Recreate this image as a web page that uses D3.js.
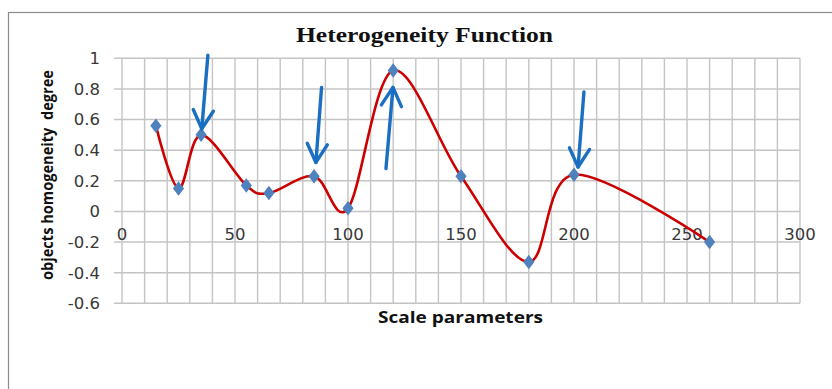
<!DOCTYPE html>
<html>
<head>
<meta charset="utf-8">
<script src="https://cdn.jsdelivr.net/npm/d3@7"></script>
<style>
  body { margin: 0; background: #fff; }
  svg { display: block; }
</style>
</head>
<body>
<div id="chart"></div>
<script>
// data
const scaleParams = [15, 25, 35, 55, 65, 85, 100, 120, 150, 180, 200, 260];
const homogeneity = [0.56, 0.15, 0.5, 0.17, 0.12, 0.23, 0.02, 0.92, 0.23, -0.33, 0.24, -0.2];

const xTicks = [0, 50, 100, 150, 200, 250, 300];
const yTicks = [-0.6, -0.4, -0.2, 0, 0.2, 0.4, 0.6, 0.8, 1];
const yTickLabels = ['-0.6', '-0.4', '-0.2', '0', '0.2', '0.4', '0.6', '0.8', '1'];

// hand drawn arrows, in data units: [fromX, fromY, toX, toY]
const arrows = [
  [38.0, 1.02, 35.3, 0.54],
  [88.3, 0.81, 85.8, 0.32],
  [116.8, 0.28, 119.9, 0.81],
  [204.4, 0.78, 201.8, 0.29]
];

const width = 832;
const height = 389;

const svg = d3.select('#chart')
  .append('svg')
  .attr('width', width)
  .attr('height', height);

// outer chart frame (runs off the right/bottom of the picture)
svg.append('rect')
  .attr('x', 8.5)
  .attr('y', 12.5)
  .attr('width', 900)
  .attr('height', 500)
  .attr('fill', 'none')
  .attr('stroke', '#8c8c8c')
  .attr('stroke-width', 1.2);

const x = d3.scaleLinear().domain([0, 300]).range([122, 800]);
const y = d3.scaleLinear().domain([-0.6, 1]).range([303.3, 58.3]);

const grid = svg.append('g').attr('stroke', '#c4c4c4').attr('stroke-width', 1.4);

// vertical grid every 10
grid.selectAll('line.v')
  .data(d3.range(0, 301, 10))
  .enter().append('line')
  .attr('class', 'v')
  .attr('x1', d => x(d)).attr('x2', d => x(d))
  .attr('y1', y(1)).attr('y2', y(-0.6));

// horizontal grid (with little tick stubs on the left)
grid.selectAll('line.h')
  .data(yTicks)
  .enter().append('line')
  .attr('class', 'h')
  .attr('x1', x(0) - 8).attr('x2', x(300))
  .attr('y1', d => y(d)).attr('y2', d => y(d));

// y tick labels
svg.append('g')
  .selectAll('text')
  .data(yTicks)
  .enter().append('text')
  .attr('x', 100)
  .attr('y', d => y(d))
  .attr('dy', '0.36em')
  .attr('text-anchor', 'end')
  .style('font-family', 'DejaVu Sans')
  .style('font-size', '16.5px')
  .attr('fill', '#383838')
  .text((d, i) => yTickLabels[i]);

// x tick labels sit just under the zero line
svg.append('g')
  .selectAll('text')
  .data(xTicks)
  .enter().append('text')
  .attr('x', d => x(d))
  .attr('y', y(0) + 28.5)
  .attr('text-anchor', 'middle')
  .style('font-family', 'DejaVu Sans')
  .style('font-size', '16.5px')
  .attr('fill', '#383838')
  .text(d => d);

// smoothed line
const pts = scaleParams.map((d, i) => [d, homogeneity[i]]);
const line = d3.line()
  .x(d => x(d[0]))
  .y(d => y(d[1]))
  .curve(d3.curveCardinal.tension(0));

svg.append('path')
  .datum(pts)
  .attr('d', line)
  .attr('fill', 'none')
  .attr('stroke', '#cc0000')
  .attr('stroke-width', 2.6);

// diamond markers
svg.selectAll('path.marker')
  .data(pts)
  .enter().append('path')
  .attr('class', 'marker')
  .attr('d', d3.symbol().type(d3.symbolDiamond).size(75))
  .attr('transform', d => `translate(${x(d[0])},${y(d[1])}) scale(1.2,0.9)`)
  .attr('fill', '#4f81bd');

// arrows
const arrowG = svg.append('g')
  .attr('stroke', '#1a6fc2')
  .attr('stroke-width', 3.4)
  .attr('stroke-linecap', 'round')
  .attr('stroke-linejoin', 'round')
  .attr('fill', 'none');

arrows.forEach(a => {
  const x1 = x(a[0]), y1 = y(a[1]), x2 = x(a[2]), y2 = y(a[3]);
  const ang = Math.atan2(y2 - y1, x2 - x1);
  const len = 21, spread = 0.5;
  arrowG.append('line')
    .attr('x1', x1).attr('y1', y1).attr('x2', x2).attr('y2', y2);
  arrowG.append('path')
    .attr('d', `M${x2 - len * Math.cos(ang - spread)},${y2 - len * Math.sin(ang - spread)}` +
      `L${x2},${y2}` +
      `L${x2 - len * Math.cos(ang + spread)},${y2 - len * Math.sin(ang + spread)}`);
});

// titles
svg.append('text')
  .attr('x', 424.5)
  .attr('y', 42)
  .attr('text-anchor', 'middle')
  .attr('textLength', 257)
  .attr('lengthAdjust', 'spacingAndGlyphs')
  .style('font-family', 'Liberation Serif')
  .style('font-weight', 'bold')
  .style('font-size', '21px')
  .attr('fill', '#111')
  .text('Heterogeneity Function');

svg.append('text')
  .attr('x', 460.5)
  .attr('y', 323)
  .attr('text-anchor', 'middle')
  .attr('textLength', 165)
  .attr('lengthAdjust', 'spacingAndGlyphs')
  .style('font-family', 'Open Sans')
  .style('font-weight', 'bold')
  .style('font-size', '15.5px')
  .attr('fill', '#111')
  .text('Scale parameters');

svg.append('text')
  .attr('transform', 'translate(53,175) rotate(-90)')
  .attr('text-anchor', 'middle')
  .attr('textLength', 210)
  .attr('lengthAdjust', 'spacingAndGlyphs')
  .style('font-family', 'Open Sans')
  .style('font-weight', 'bold')
  .style('font-size', '15.5px')
  .style('white-space', 'pre')
  .attr('fill', '#111')
  .text('objects homogeneity  degree');
</script>
</body>
</html>
